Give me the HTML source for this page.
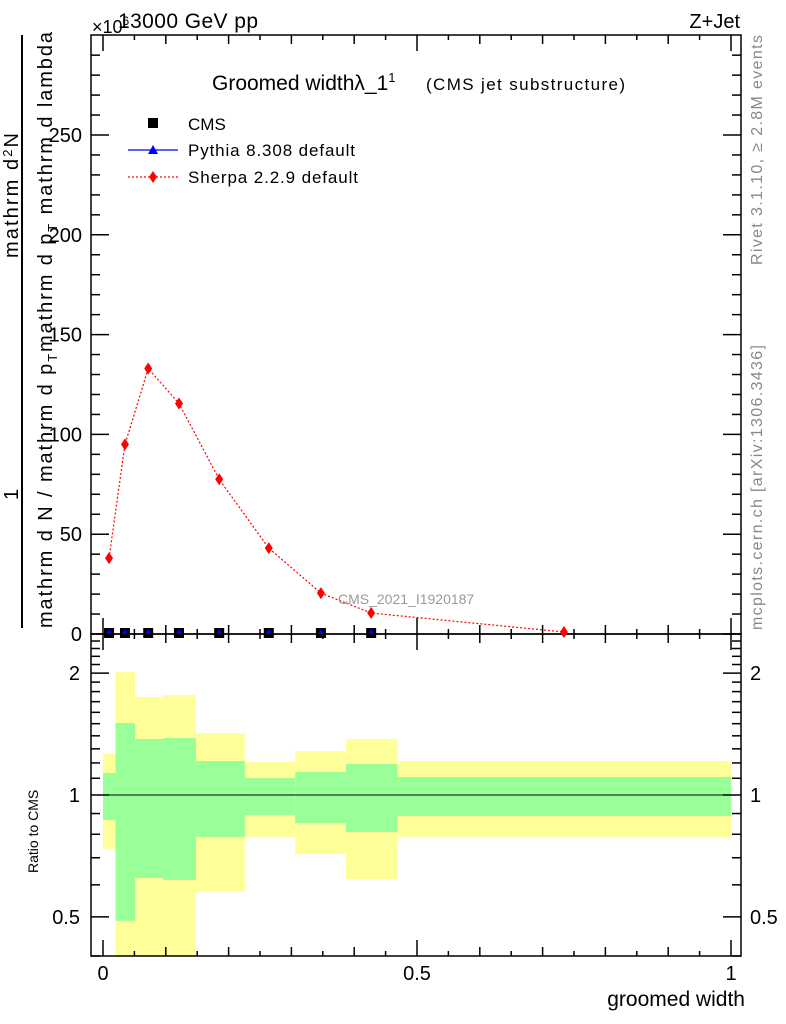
<!DOCTYPE html>
<html><head><meta charset="utf-8"><style>
body{margin:0;background:#fff;}
svg{display:block;font-family:"Liberation Sans",sans-serif;}
</style></head><body>
<svg id="chart" width="786" height="1024" viewBox="0 0 786 1024" xmlns="http://www.w3.org/2000/svg">
<g id="bands"></g>
<g id="axes"></g>
<g id="marks"></g>
<text x="118" y="28" font-size="21" textLength="140">13000 GeV pp</text>
<text x="92" y="33" font-size="18">×10<tspan font-size="12" dy="-8">6</tspan></text>
<text x="740" y="28" font-size="20" text-anchor="end">Z+Jet</text>
<text x="212" y="90" font-size="21">Groomed widthλ_1<tspan font-size="13" dy="-8">1</tspan></text>
<text x="426" y="90" font-size="17" textLength="199">(CMS jet substructure)</text>
<text x="338" y="604" font-size="14" fill="#999">CMS_2021_I1920187</text>
<text transform="translate(762,265) rotate(-90)" font-size="16" fill="#888" textLength="230">Rivet 3.1.10, ≥ 2.8M events</text>
<text transform="translate(762,630) rotate(-90)" font-size="16" fill="#888" textLength="285">mcplots.cern.ch [arXiv:1306.3436]</text>
<line x1="22" y1="628" x2="22" y2="35" stroke="#000" stroke-width="2"/>
<text transform="translate(52,628) rotate(-90)" font-size="20" textLength="596">mathrm d N / mathrm d p<tspan font-size="13" dy="5">T</tspan><tspan dy="-5">mathrm d p</tspan><tspan font-size="13" dy="5">T</tspan><tspan dy="-5"> mathrm d lambda</tspan></text>
<text transform="translate(18,500) rotate(-90)" font-size="20">1</text>
<text transform="translate(18,258) rotate(-90)" font-size="20" textLength="125">mathrm d<tspan font-size="13" dy="-6">2</tspan><tspan dy="6">N</tspan></text>
<text transform="translate(38,873) rotate(-90)" font-size="14">Ratio to CMS</text>
<text x="745" y="1006" font-size="21" text-anchor="end">groomed width</text>
<g font-size="17">
<rect x="148" y="118" width="10" height="10" fill="#000"/>
<text x="188" y="130">CMS</text>
<line x1="128" y1="150" x2="178" y2="150" stroke="#00f" stroke-width="1.2"/>
<polygon points="153,145 158,154 148,154" fill="#00f"/>
<text x="188" y="156" textLength="167">Pythia 8.308 default</text>
<line x1="128" y1="177" x2="178" y2="177" stroke="red" stroke-width="1.2" stroke-dasharray="2,2"/>
<polygon points="153,171 157,177 153,183 149,177" fill="red"/>
<text x="188" y="183" textLength="170">Sherpa 2.2.9 default</text>
</g>
</svg>
<script>
const xs = [0.0096, 0.035, 0.072, 0.121, 0.185, 0.264, 0.347, 0.427, 0.734];
const sherpa = [38, 95, 133, 115.5, 77.5, 43, 20.5, 10.5, 1];
const cms = [0.5, 0.5, 0.5, 0.5, 0.5, 0.5, 0.5, 0.5];
const edges = [0, 0.02, 0.051, 0.0955, 0.148, 0.226, 0.306, 0.387, 0.469, 1.0];
const yelHi = [1.263, 2.01, 1.746, 1.765, 1.422, 1.206, 1.284, 1.375, 1.213];
const yelLo = [0.736, 0.38, 0.38, 0.38, 0.576, 0.788, 0.715, 0.62, 0.788];
const grnHi = [1.133, 1.506, 1.375, 1.383, 1.213, 1.101, 1.14, 1.193, 1.108];
const grnLo = [0.868, 0.489, 0.624, 0.617, 0.788, 0.893, 0.853, 0.81, 0.887];
const xTicks = ["0", "0.5", "1"];
const yTicks = [0, 50, 100, 150, 200, 250];
const rTicks = [0.5, 1, 2];

const NS = "http://www.w3.org/2000/svg";
const L = 91, R = 741, T = 35, M = 634, B = 956;
const X = v => 103 + 628 * v;
const Y = v => 634 - 1.996 * v;
const RY = v => Math.min(B, Math.max(M, 795 - 405 * Math.log10(v)));
function mk(p, tag, a) { const e = document.createElementNS(NS, tag); for (const k in a) e.setAttribute(k, a[k]); p.appendChild(e); return e; }
const bands = document.getElementById('bands'), axes = document.getElementById('axes'), marks = document.getElementById('marks');

for (let i = 0; i < edges.length - 1; i++) {
  const x1 = X(edges[i]), x2 = Math.min(X(edges[i + 1]), R);
  const y = mk(bands, 'rect', { x: x1, y: RY(yelHi[i]), width: x2 - x1, height: RY(yelLo[i]) - RY(yelHi[i]), fill: '#ffff99' });
  
  
  const g = mk(bands, 'rect', { x: x1, y: RY(grnHi[i]), width: x2 - x1, height: RY(grnLo[i]) - RY(grnHi[i]), fill: '#99ff99' });
  
  
}
mk(bands, 'line', { x1: L, y1: RY(1), x2: R, y2: RY(1), stroke: '#000', 'stroke-width': 1 });

const st = { stroke: '#000', 'stroke-width': 1.5 };
mk(axes, 'rect', { x: L, y: T, width: R - L, height: M - T, fill: 'none', ...st });
mk(axes, 'rect', { x: L, y: M, width: R - L, height: B - M, fill: 'none', ...st });
for (let k = 0; k <= 20; k++) {
  const v = k * 0.05, x = X(v);
  const len = k % 10 === 0 ? 16 : (k % 2 === 0 ? 9 : 5);
  [[M, -1], [T, 1], [B, -1], [M, 1]].forEach(([y0, d]) => mk(axes, 'line', { x1: x, y1: y0, x2: x, y2: y0 + d * len, ...st }));
}
xTicks.forEach((t, i) => {
  const e = mk(axes, 'text', { x: X(i * 0.5), y: 980, 'font-size': 20, 'text-anchor': 'middle' });
  e.textContent = t;
  
  
});
for (let v = 0; v <= 290; v += 10) {
  const len = v % 50 === 0 ? 18 : 9, y = Y(v);
  mk(axes, 'line', { x1: L, y1: y, x2: L + len, y2: y, ...st });
  mk(axes, 'line', { x1: R, y1: y, x2: R - len, y2: y, ...st });
}
yTicks.forEach(v => {
  const e = mk(axes, 'text', { x: 82, y: Y(v) + 7, 'font-size': 20, 'text-anchor': 'end' });
  e.textContent = v;
  
  
});
[0.4, 0.5, 0.6, 0.7, 0.8, 0.9, 1, 1.1, 1.2, 1.3, 1.4, 1.5, 1.6, 1.7, 1.8, 1.9, 2, 2.1, 2.2, 2.3, 2.4].forEach(v => {
  const y = RY(v); const len = rTicks.includes(v) ? 18 : 9;
  mk(axes, 'line', { x1: L, y1: y, x2: L + len, y2: y, ...st });
  mk(axes, 'line', { x1: R, y1: y, x2: R - len, y2: y, ...st });
});
rTicks.forEach(v => {
  const e = mk(axes, 'text', { x: 80, y: RY(v) + 7, 'font-size': 20, 'text-anchor': 'end' });
  e.textContent = v;
  
  
  const e2 = mk(axes, 'text', { x: 750, y: RY(v) + 7, 'font-size': 20 });
  e2.textContent = v;
  
  
});

const pl = mk(marks, 'polyline', { points: xs.map((x, i) => X(x) + ',' + Y(sherpa[i])).join(' '), fill: 'none', stroke: 'red', 'stroke-width': 1.2, 'stroke-dasharray': '2,2' });


xs.forEach((x, i) => {
  const cx = X(x), cy = Y(sherpa[i]);
  const d = mk(marks, 'polygon', { points: `${cx},${cy - 6} ${cx + 4},${cy} ${cx},${cy + 6} ${cx - 4},${cy}`, fill: 'red' });
  
  
});
cms.forEach((v, i) => {
  const cx = X(xs[i]), cy = Y(v);
  const r = mk(marks, 'rect', { x: cx - 5, y: cy - 5, width: 10, height: 10, fill: '#000' });
  
  
  const t = mk(marks, 'polygon', { points: `${cx},${cy - 4} ${cx + 3},${cy + 1} ${cx - 3},${cy + 1}`, fill: '#00f' });
  
  
});
</script>
</body></html>
